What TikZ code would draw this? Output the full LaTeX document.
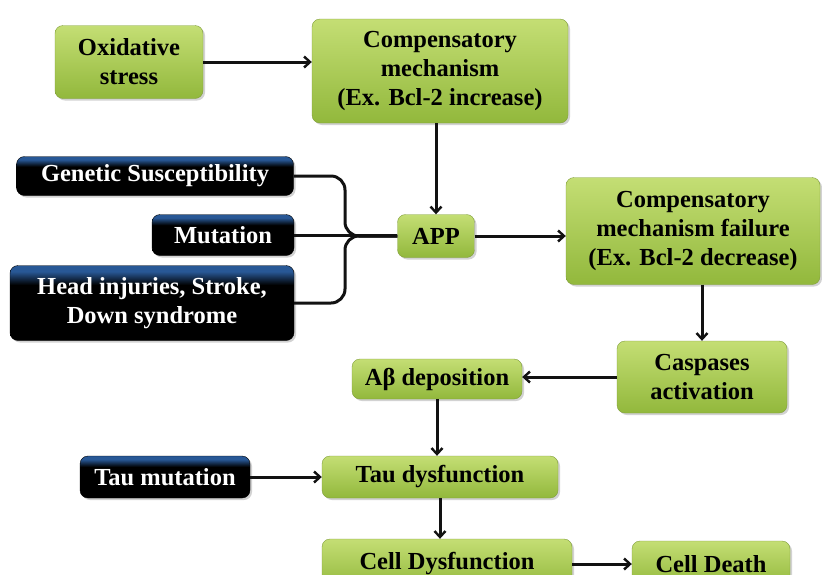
\documentclass[tikz,border=0pt]{standalone}
\usepackage{fontspec}
\setmainfont{Liberation Serif}
\usetikzlibrary{arrows.meta,shadows}
\definecolor{LeafTop}{RGB}{196,222,116}
\definecolor{LeafBot}{RGB}{146,184,60}
\definecolor{LeafEdge}{RGB}{128,158,58}
\definecolor{NightTop}{RGB}{40,88,150}
\definecolor{ArrowInk}{RGB}{18,18,18}
\pgfdeclareverticalshading{nightfade}{100bp}{color(0bp)=(black); color(62bp)=(black); color(71bp)=(NightTop); color(100bp)=(NightTop)}

\begin{document}
\begin{tikzpicture}[x=1pt,y=-1pt,>={Straight Barb[length=6pt,width=11pt,line width=2.4pt]},
  greenbox/.style={draw=LeafEdge,rounded corners=8pt,top color=LeafTop,bottom color=LeafBot,
    drop shadow={shadow xshift=2pt,shadow yshift=-2pt,opacity=0.35},
    align=center,inner sep=2pt,font=\fontsize{24.5}{29}\selectfont\bfseries},
  darkbox/.style={greenbox,draw=black,shading=nightfade,text=white},
  link/.style={line width=3pt,ArrowInk}]
\clip (0,0) rectangle (822,574);
\fill[white] (0,0) rectangle (822,574);
% green chain
\node[greenbox,minimum width=148,minimum height=73] (ox) at (129,62) {Oxidative\\stress};
\node[greenbox,minimum width=256,minimum height=104] (comp) at (440,71) {Compensatory\\mechanism\\(Ex. Bcl-2 increase)};
\node[greenbox,minimum width=77,minimum height=43] (app) at (436,236) {APP};
\node[greenbox,minimum width=254,minimum height=107] (fail) at (693,231) {Compensatory\\mechanism failure\\(Ex. Bcl-2 decrease)};
\node[greenbox,minimum width=170,minimum height=72] (casp) at (702,377) {Caspases\\activation};
\node[greenbox,minimum width=170,minimum height=40] (abeta) at (437,379) {Aβ deposition};
\node[greenbox,minimum width=236,minimum height=42] (tauf) at (440,477) {Tau dysfunction};
\node[greenbox,minimum width=250,minimum height=50] (celld) at (447,564) {Cell Dysfunction};
\node[greenbox,minimum width=158,minimum height=46] (death) at (711,564) {Cell Death};
% dark risk factors
\node[darkbox,minimum width=277,minimum height=39] (gen) at (155,176) {Genetic Susceptibility};
\node[darkbox,minimum width=142,minimum height=41] (mut) at (223,235) {Mutation};
\node[darkbox,minimum width=284,minimum height=75] (head) at (152,303) {Head injuries, Stroke,\\Down syndrome};
\node[darkbox,minimum width=170,minimum height=42] (taum) at (165,477) {Tau mutation};
% connectors
\coordinate (join) at (345,236);
\draw[link,rounded corners=14pt] (gen.east) -| (join) -- (app.west);
\draw[link,rounded corners=14pt] (head.east) -| (join) -- (app.west);
\draw[link] (mut.east) -- (mut.east -| app.west);
\draw[link,->] (ox.east) -- (ox.east -| comp.west);
\draw[link,->] (comp.south -| app.north) -- (app.north);
\draw[link,->] (app.east) -- (app.east -| fail.west);
\draw[link,->] (fail.south -| casp.north) -- (casp.north);
\draw[link,->] (casp.west) -- (casp.west -| abeta.east);
\draw[link,->] (abeta.south) -- (abeta.south |- tauf.north);
\draw[link,->] (taum.east) -- (tauf.west);
\draw[link,->] (tauf.south) -- (tauf.south |- celld.north);
\draw[link,->] (celld.east) -- (death.west);
\end{tikzpicture}
\end{document}
